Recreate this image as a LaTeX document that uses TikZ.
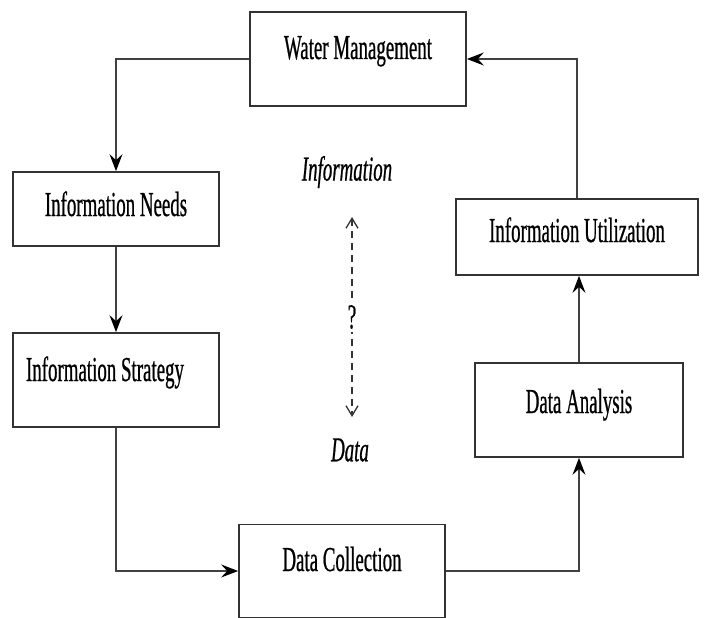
\documentclass[tikz,border=0pt]{standalone}
\usepackage{fontspec}
\setmainfont{Liberation Serif}[FakeStretch=0.54,FakeBold=0.6]
\usepackage{tikz}
\usetikzlibrary{arrows.meta}

\begin{document}
\begin{tikzpicture}[x=1pt,y=-1pt,
  stagebox/.style={draw=black!80,line width=1.7pt,inner sep=0pt,
    font=\fontsize{35}{40}\selectfont,text height=24pt},
  flow/.style={draw=black!75,line width=1.4pt,
    -{Stealth[length=17pt,width=13pt,inset=6pt,black]}},
  query/.style={draw=black!80,line width=1.3pt,dash pattern=on 7pt off 5pt,
    {Straight Barb[length=10pt,width=12pt]}-{Straight Barb[length=10pt,width=12pt]}},
  tag/.style={font=\fontsize{35}{40}\selectfont\itshape,inner sep=1pt}]
\useasboundingbox (0,0) rectangle (704,618);
% the six stages of the cycle
\node [stagebox,minimum width=216pt,minimum height=94pt,text depth=24pt] (wm) at (358,59) {Water Management};
\node [stagebox,minimum width=206pt,minimum height=74pt,text depth=10pt] (in) at (116,209) {Information Needs};
\node [stagebox,minimum width=206pt,minimum height=94pt,text depth=22pt] (is) at (116,380) {Information Strategy\hspace*{22pt}};
\node [stagebox,minimum width=206pt,minimum height=93pt,text depth=24pt] (dc) at (342,571) {Data Collection};
\node [stagebox,minimum width=208pt,minimum height=94pt,text depth=18pt] (da) at (579,410) {Data Analysis};
\node [stagebox,minimum width=242pt,minimum height=76pt,text depth=14pt] (iu) at (577,237) {Information Utilization};
% arrows round the cycle
\draw [flow] (wm.west) -| (in.north);
\draw [flow] (in) -- (is);
\draw [flow] (is.south) |- (dc.west);
\draw [flow] (dc.east) -| (da.south);
\draw [flow] (da.north) -- (da.north |- iu.south);
\draw [flow] (iu.north) |- (wm.east);
% information versus data in the middle
\node [tag] (info) at (347,172) {Information};
\node [tag] (data) at (350,450) {Data};
\coordinate (up) at (352,217);
\coordinate (dn) at (352,417);
\draw [query] (up) -- node [fill=white,inner sep=3pt,font=\fontsize{35}{40}\selectfont] (ask) {?} (dn);
\end{tikzpicture}
\end{document}
